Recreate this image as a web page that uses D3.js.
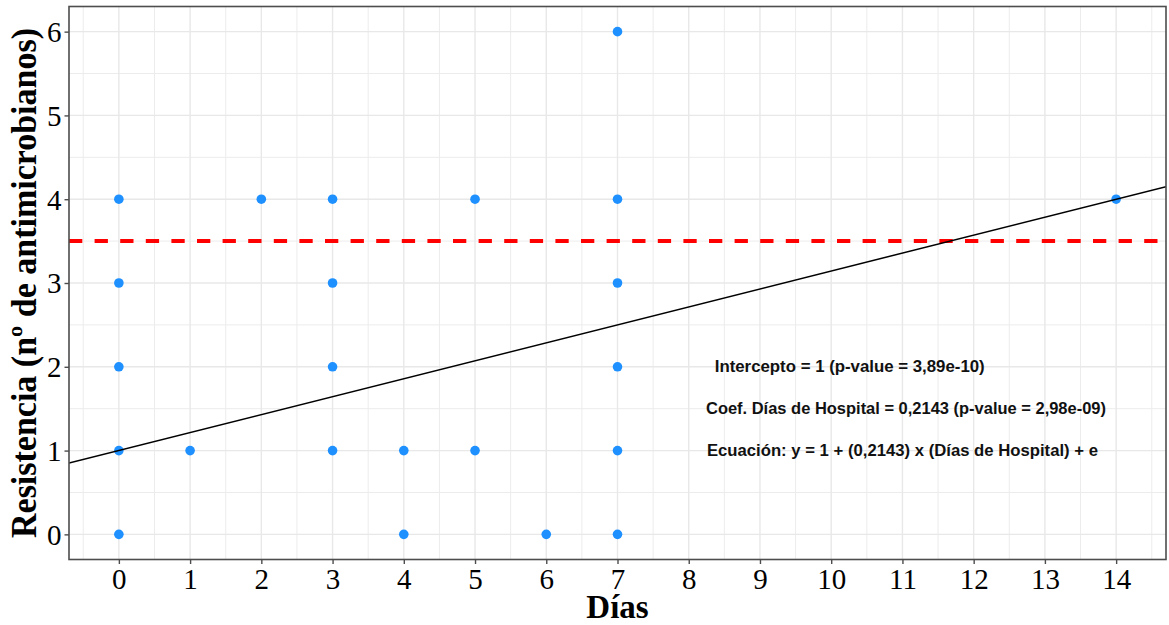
<!DOCTYPE html>
<html>
<head>
<meta charset="utf-8">
<script src="https://cdn.jsdelivr.net/npm/d3@7"></script>
<style>
  html, body { margin: 0; padding: 0; background: #ffffff; }
  svg { display: block; }
</style>
</head>
<body>
<svg id="chart" width="1169" height="625"></svg>
<script>
// ---- data ----
const dias        = [0, 0, 0, 0, 0, 1, 2, 3, 3, 3, 3, 4, 4, 5, 5, 6, 7, 7, 7, 7, 7, 7, 14];
const resistencia = [0, 1, 2, 3, 4, 1, 4, 1, 2, 3, 4, 0, 1, 1, 4, 0, 0, 1, 2, 3, 4, 6, 4];
const xTicks = [0, 1, 2, 3, 4, 5, 6, 7, 8, 9, 10, 11, 12, 13, 14];
const yTicks = [0, 1, 2, 3, 4, 5, 6];
const intercepto = 1;
const pendiente = 0.2143;
const umbral = 3.5;
const notas = [
  "Intercepto = 1 (p-value = 3,89e-10)",
  "Coef. Días de Hospital = 0,2143 (p-value = 2,98e-09)",
  "Ecuación: y = 1 + (0,2143) x (Días de Hospital) + e"
];
const notasX = [10.26, 11.05, 11.0];
const notasY = [2, 1.5, 1];
const notasW = [270, 400, 391];
const xTitle = "Días";
const yTitle = "Resistencia (nº de antimicrobianos)";

// ---- layout ----
const svg = d3.select("#chart");
const L = 69, R = 1166, T = 6.5, B = 559.5;
const x = d3.scaleLinear().domain([-0.7, 14.7]).range([L, R]);
const y = d3.scaleLinear().domain([-0.3, 6.3]).range([B, T]);

svg.append("defs").append("clipPath").attr("id", "clip")
  .append("rect").attr("x", L).attr("y", T).attr("width", R - L).attr("height", B - T);

const grid = svg.append("g");
const minorX = d3.range(-0.5, 15, 1);
const minorY = d3.range(0.5, 6, 1);
grid.selectAll(".mx").data(minorX).join("line")
  .attr("x1", d => x(d)).attr("x2", d => x(d)).attr("y1", T).attr("y2", B)
  .attr("stroke", "#ececec").attr("stroke-width", 1);
grid.selectAll(".my").data(minorY).join("line")
  .attr("y1", d => y(d)).attr("y2", d => y(d)).attr("x1", L).attr("x2", R)
  .attr("stroke", "#ececec").attr("stroke-width", 1);
grid.selectAll(".gx").data(xTicks).join("line")
  .attr("x1", d => x(d)).attr("x2", d => x(d)).attr("y1", T).attr("y2", B)
  .attr("stroke", "#e8e8e8").attr("stroke-width", 1.4);
grid.selectAll(".gy").data(yTicks).join("line")
  .attr("y1", d => y(d)).attr("y2", d => y(d)).attr("x1", L).attr("x2", R)
  .attr("stroke", "#e8e8e8").attr("stroke-width", 1.4);

const plot = svg.append("g").attr("clip-path", "url(#clip)");

// points
plot.selectAll("circle").data(dias).join("circle")
  .attr("cx", d => x(d))
  .attr("cy", (d, i) => y(resistencia[i]))
  .attr("r", 4.8)
  .attr("fill", "#1E90FF");

// threshold dashed line
plot.append("line")
  .attr("x1", L).attr("x2", R)
  .attr("y1", y(umbral)).attr("y2", y(umbral))
  .attr("stroke", "#ff0000").attr("stroke-width", 4)
  .attr("stroke-dasharray", "13.3,12.3");

// regression line
const xd = x.domain();
plot.append("line")
  .attr("x1", x(xd[0])).attr("y1", y(intercepto + pendiente * xd[0]))
  .attr("x2", x(xd[1])).attr("y2", y(intercepto + pendiente * xd[1]))
  .attr("stroke", "#000").attr("stroke-width", 1.5);

// annotations
svg.selectAll(".nota").data(notas).join("text")
  .attr("x", (d, i) => x(notasX[i]))
  .attr("y", (d, i) => y(notasY[i]))
  .attr("text-anchor", "middle")
  .attr("dominant-baseline", "central")
  .attr("textLength", (d, i) => notasW[i])
  .attr("lengthAdjust", "spacingAndGlyphs")
  .style("font-family", "'Liberation Sans', Arial, sans-serif")
  .style("font-weight", "bold")
  .style("font-size", "17px")
  .attr("fill", "#111")
  .text(d => d);

// panel border
svg.append("rect").attr("x", L).attr("y", T).attr("width", R - L).attr("height", B - T)
  .attr("fill", "none").attr("stroke", "#4d4d4d").attr("stroke-width", 1.6);

// axes
const fmt = d3.format("d");
const xAxis = svg.append("g").attr("transform", `translate(0,${B})`)
  .call(d3.axisBottom(x).tickValues(xTicks).tickFormat(fmt).tickSizeOuter(0).tickSize(4.5).tickPadding(4));
const yAxis = svg.append("g").attr("transform", `translate(${L},0)`)
  .call(d3.axisLeft(y).tickValues(yTicks).tickFormat(fmt).tickSizeOuter(0).tickSize(4.5).tickPadding(3));
[xAxis, yAxis].forEach(a => {
  a.select(".domain").remove();
  a.selectAll(".tick line").attr("stroke", "#4d4d4d").attr("stroke-width", 1.4);
  a.selectAll(".tick text")
    .style("font-family", "'Liberation Serif', 'Times New Roman', serif")
    .style("font-size", "29px")
    .attr("fill", "#000");
});
yAxis.selectAll(".tick text").attr("dy", "0.34em");

// titles
svg.append("text")
  .attr("x", (L + R) / 2).attr("y", 618)
  .attr("text-anchor", "middle")
  .style("font-family", "'Liberation Serif', 'Times New Roman', serif")
  .style("font-weight", "bold").style("font-size", "33px")
  .text(xTitle);
svg.append("text")
  .attr("transform", `translate(36,${(T + B) / 2}) rotate(-90)`)
  .attr("text-anchor", "middle")
  .attr("textLength", 510)
  .attr("lengthAdjust", "spacingAndGlyphs")
  .style("font-family", "'Liberation Serif', 'Times New Roman', serif")
  .style("font-weight", "bold").style("font-size", "35px")
  .text(yTitle);
</script>
</body>
</html>
